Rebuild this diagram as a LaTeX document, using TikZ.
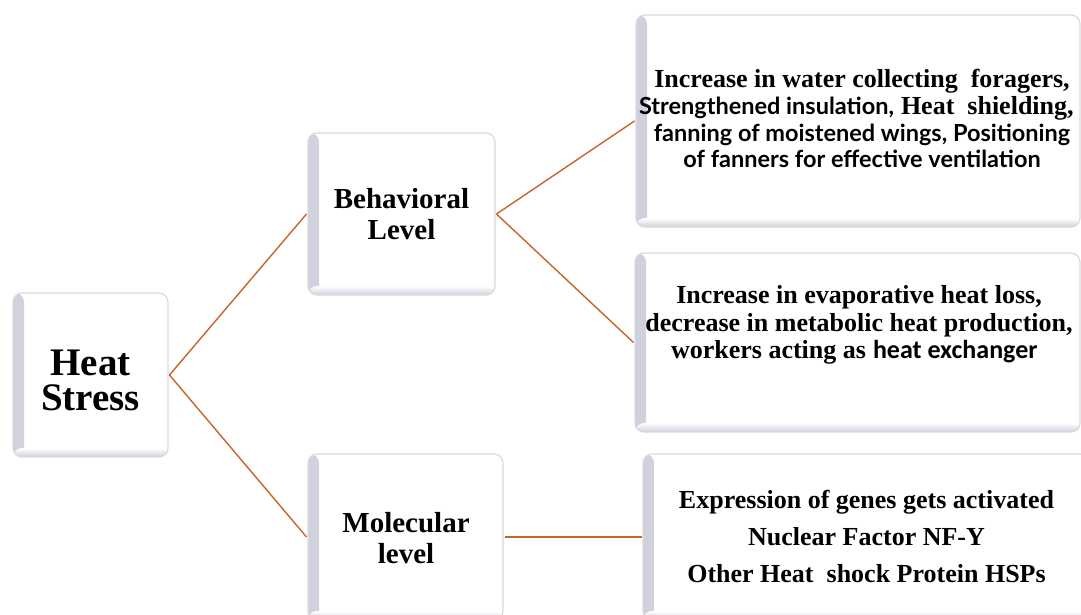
\documentclass[tikz,border=0pt]{standalone}
\usepackage{fontspec}
\setmainfont{Liberation Serif}
\newfontfamily\tnr{Liberation Serif}
\newfontfamily\calib{Carlito}
\newfontfamily\latof{Lato}
\definecolor{conn}{RGB}{200,100,40}
\definecolor{bev}{RGB}{208,208,220}
\definecolor{rim}{RGB}{218,218,222}
\tikzset{
  card/.style={rectangle, rounded corners=9pt, fill=white, draw=rim, line width=1.2pt,
    inner sep=0pt, outer sep=1.5pt,
    path picture={
      \shade[left color=bev, right color=white]
        (path picture bounding box.south west) rectangle ([xshift=11pt]path picture bounding box.north west);
      \shade[bottom color=bev, top color=white]
        (path picture bounding box.south west) rectangle ([yshift=9pt]path picture bounding box.south east);
    }},
  txt/.style={anchor=base, inner sep=0pt, outer sep=0pt},
  serifb/.style={font=\tnr\bfseries\fontsize{26}{26}\selectfont},
  serifc/.style={font=\tnr\bfseries\fontsize{25.99}{26}\selectfont},
  sansb/.style={font=\calib\bfseries\fontsize{26}{26}\selectfont},
  sansl/.style={font=\latof\bfseries\fontsize{23.5}{26}\selectfont},
  link/.style={draw=conn, line width=1.4pt},
}
\begin{document}
\begin{tikzpicture}[x=1pt,y=-1pt]
\useasboundingbox (0,0) rectangle (1081,615);
% boxes
\node[card, minimum width=155pt, minimum height=164pt] (hs) at (90.5,375) {};
\node[card, minimum width=187pt, minimum height=162pt] (beh) at (401.5,214) {};
\node[card, minimum width=195pt, minimum height=166pt] (mol) at (405.5,537) {};
\node[card, minimum width=444pt, minimum height=212pt] (r1) at (858,121) {};
\node[card, minimum width=445pt, minimum height=179pt] (r2) at (857.5,342.5) {};
\node[card, minimum width=446pt, minimum height=166pt] (r3) at (866,537) {};
% left texts
\node[txt, font=\tnr\bfseries\fontsize{39}{33}\selectfont] (hst) at (90.5,375)
  {\begin{tabular}[t]{@{}c@{}}Heat\\Stress\end{tabular}};
\node[txt, font=\tnr\bfseries\fontsize{29}{31}\selectfont] (beht) at (401.5,208)
  {\begin{tabular}[t]{@{}c@{}}Behavioral\\Level\end{tabular}};
\node[txt, font=\tnr\bfseries\fontsize{29}{31}\selectfont] (molt) at (406,532)
  {\begin{tabular}[t]{@{}c@{}}Molecular\\level\end{tabular}};
% top right texts
\node[txt, serifb] (r1a) at (862,88) {Increase in water collecting\ \ foragers,};
\node[txt, sansl, anchor=base east] (r1b) at (894,115) {Strengthened insulation,};
\node[txt, serifb, anchor=base west] (r1c) at (901,115) {Heat\ \ shielding,};
\node[txt, sansl] (r1d) at (862,142) {fanning of moistened wings, Positioning};
\node[txt, sansl] (r1e) at (862,167) {of fanners for effective ventilation};
% middle right texts
\node[txt, serifc] (r2a) at (859,303) {Increase in evaporative heat loss,};
\node[txt, serifc] (r2b) at (859,331) {decrease in metabolic heat production,};
\node[txt, serifc, anchor=base east] (r2c) at (866,358) {workers acting as};
\node[txt, sansb, anchor=base west] (r2d) at (873,358) {heat exchanger};
% bottom right texts
\node[txt, serifb] (r3a) at (866.5,508) {Expression of genes gets activated};
\node[txt, serifb] (r3b) at (866.5,545) {Nuclear Factor NF-Y};
\node[txt, serifb] (r3c) at (866.5,582) {Other Heat\ \ shock Protein HSPs};
% connectors
\draw[link] (hs.east) -- (beh.west);
\draw[link] (hs.east) -- (mol.west);
\draw[link] (beh.east) -- (r1.west);
\draw[link] (beh.east) -- (r2.west);
\draw[link] (mol.east) -- (r3.west);
\end{tikzpicture}
\end{document}
